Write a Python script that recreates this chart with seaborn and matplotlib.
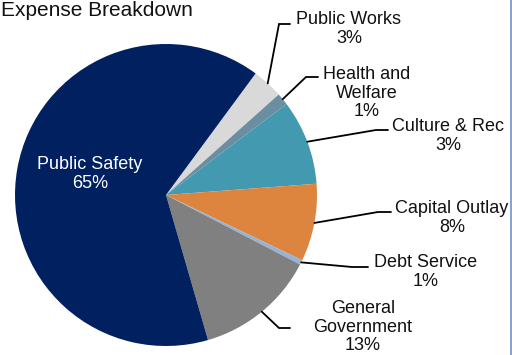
import numpy as np
import matplotlib
matplotlib.use("Agg")
import matplotlib.pyplot as plt
from matplotlib.lines import Line2D
import seaborn as sns

# Expense categories, listed clockwise starting just right of twelve o'clock
categories = ["Public Works", "Health and\nWelfare", "Culture & Rec", "Capital Outlay",
              "Debt Service", "General\nGovernment", "Public Safety"]
shares = [3.3, 1.3, 9.1, 8.3, 0.5, 12.9, 64.6]
pct_text = ["3%", "1%", "3%", "8%", "1%", "13%", "65%"]
colors = ["#D9D9D9", "#6B8FA0", "#4299B0", "#DD843E", "#95B3D7", "#808080", "#002060"]

sns.set_theme(style="white")
plt.rcParams["font.family"] = ["Liberation Sans", "DejaVu Sans"]

W, H, DPI = 512, 355, 100
fig = plt.figure(figsize=(W / DPI, H / DPI), dpi=DPI)
fig.patch.set_facecolor("white")

# pie centre and radius in pixels
cx, cy, R = 166, 195, 151
ax = fig.add_axes([(cx - R) / W, (H - cy - R) / H, 2 * R / W, 2 * R / H])

wedges, _ = ax.pie(shares, colors=colors, startangle=53.6, counterclock=False,
                   radius=1.0, wedgeprops=dict(linewidth=0))
ax.set_xlim(-1, 1)
ax.set_ylim(-1, 1)
ax.axis("off")


def px(x, y):
    """pixel position -> pie data coordinates"""
    return (x - cx) / R, (cy - y) / R


# label block centres, elbow and end of each leader line (pixels)
label_pos = [(349, 29), (367, 93), (448, 136), (452, 218), (426, 272), (363, 327)]
elbows = [((279, 24), (290, 24)), ((306, 77), (318, 77)), ((376, 130), (388, 130)),
          ((378, 212), (391, 212)), ((352, 267), (368, 267)), ((279, 328), (290, 328))]

fs = 13
for i, (pos, (e1, e2)) in enumerate(zip(label_pos, elbows)):
    w = wedges[i]
    mid = np.deg2rad((w.theta1 + w.theta2) / 2)
    sx, sy = np.cos(mid), np.sin(mid)
    p1, p2 = px(*e1), px(*e2)
    ax.plot([sx, p1[0], p2[0]], [sy, p1[1], p2[1]], color="black", lw=1.3,
            clip_on=False, solid_joinstyle="miter")
    tx, ty = px(*pos)
    ax.text(tx, ty, f"{categories[i]}\n{pct_text[i]}", ha="center", va="center",
            fontsize=fs, color="#111111", linespacing=1.15, clip_on=False)

# largest slice labelled inside
tx, ty = px(90, 174)
ax.text(tx, ty, f"{categories[-1]}\n{pct_text[-1]}", ha="center", va="center",
        fontsize=fs, color="white", linespacing=1.15)

fig.text(1 / W, 1 - 16 / H, "Expense Breakdown", ha="left", va="baseline",
         fontsize=15, color="#111111")

# frame edge on the right
fig.add_artist(Line2D([510.5 / W, 510.5 / W], [0, 1], color="#6F92CC", lw=1.2,
                      transform=fig.transFigure))

fig.savefig("out.png", dpi=DPI, facecolor="white")
